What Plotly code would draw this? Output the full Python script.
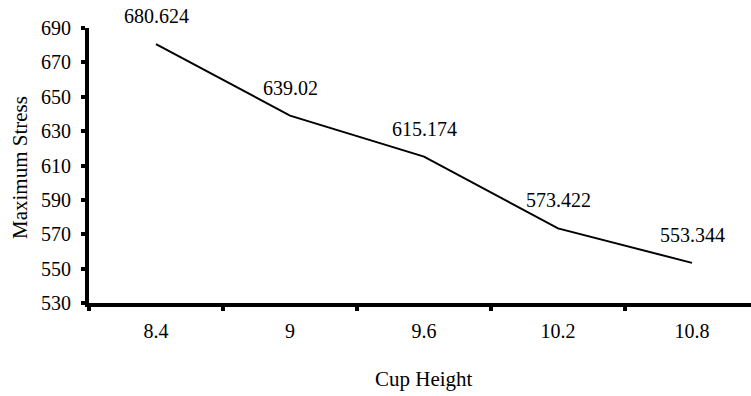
import plotly.graph_objects as go

cup_height = ["8.4", "9", "9.6", "10.2", "10.8"]
max_stress = [680.624, 639.02, 615.174, 573.422, 553.344]
label_text = ["680.624", "639.02", "615.174", "573.422", "553.344"]
y_ticks = [530, 550, 570, 590, 610, 630, 650, 670, 690]
x_title = "Cup Height"
y_title = "Maximum Stress"

FONT = "Times New Roman"
W, H = 751, 396
L, R, T, B = 89, 0, 28, 93
PW, PH = W - L - R, H - T - B

fig = go.Figure()
fig.add_trace(go.Scatter(
    x=cup_height, y=max_stress, mode="lines",
    line=dict(color="black", width=2), showlegend=False, hoverinfo="skip",
))

for i, (yv, t) in enumerate(zip(max_stress, label_text)):
    fig.add_annotation(x=i, y=yv, xref="x", yref="y", text=t, showarrow=False,
                       yshift=28,
                       font=dict(family=FONT, size=20, color="black"))

# axis titles
fig.add_annotation(text=x_title, xref="paper", yref="paper",
                   x=(424 - L) / PW, y=-(379 - (T + PH)) / PH,
                   xanchor="center", yanchor="middle", showarrow=False,
                   font=dict(family=FONT, size=21, color="black"))
fig.add_annotation(text=y_title, xref="paper", yref="paper",
                   x=(20 - L) / PW, y=((T + PH) - 168) / PH, textangle=-90,
                   xanchor="center", yanchor="middle", showarrow=False,
                   font=dict(family=FONT, size=21, color="black"))

fig.update_layout(
    width=W, height=H,
    margin=dict(l=L, r=R, t=T, b=B),
    paper_bgcolor="white", plot_bgcolor="white",
    font=dict(family=FONT, size=20, color="black"),
    xaxis=dict(
        type="category", range=[-0.5, -0.5 + PW / 134.0], tickson="boundaries",
        showline=True, linecolor="black", linewidth=4,
        ticks="outside", ticklen=4, tickwidth=4, tickcolor="black",
        ticklabelstandoff=7,
        showgrid=False, zeroline=False, automargin=False,
        tickfont=dict(family=FONT, size=20, color="black"),
    ),
    yaxis=dict(
        range=[530, 690], tickvals=y_ticks,
        showline=True, linecolor="black", linewidth=4,
        ticks="outside", ticklen=4, tickwidth=4, tickcolor="black",
        ticklabelstandoff=6,
        showgrid=False, zeroline=False, automargin=False,
        tickfont=dict(family=FONT, size=20, color="black"),
    ),
)

fig.write_html("out.html", config={"displayModeBar": False},
               post_script="document.body.style.margin='0';")
